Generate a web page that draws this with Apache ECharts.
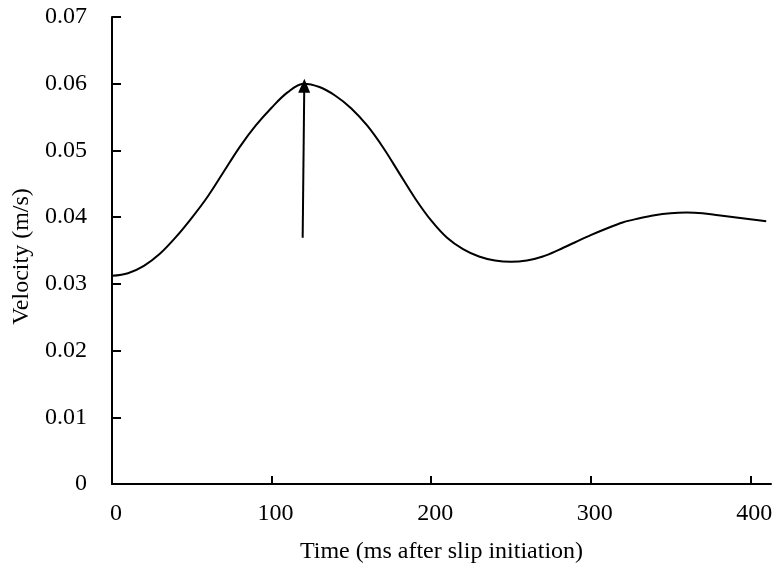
<!DOCTYPE html>
<html>
<head>
<meta charset="utf-8">
<script src="https://cdn.jsdelivr.net/npm/echarts@6/dist/echarts.min.js"></script>
<style>
html, body { margin: 0; padding: 0; background: #fff; }
#main { width: 777px; height: 571px; }
</style>
</head>
<body>
<div id="main"></div>
<script>
// time (ms after slip initiation)
var times = [0, 10, 20, 30, 40, 50, 60, 70, 80, 90, 100, 110, 120, 130, 140, 150, 160, 170, 180, 190, 200,
  210, 220, 230, 240, 250, 260, 270, 280, 290, 300, 310, 320, 330, 340, 350, 360, 370, 380, 390, 400, 410]
// velocity (m/s)
var velocity = [0.0312, 0.0316, 0.0327, 0.0345, 0.0370, 0.0399, 0.0431, 0.0468, 0.0505, 0.0537, 0.0564,
  0.0587, 0.0600, 0.0595, 0.0582, 0.0563, 0.0537, 0.0504, 0.0466, 0.0428, 0.0395,
  0.0369, 0.0352, 0.0341, 0.0335, 0.0333, 0.0335, 0.0341, 0.0351, 0.0362, 0.0373,
  0.0383, 0.0392, 0.0398, 0.0403, 0.0406, 0.0407, 0.0406, 0.0403, 0.0400, 0.0397, 0.0394]
var xTicks = [0, 100, 200, 300, 400]
// arrow pointing at the peak
var arrowFrom = [119.5, 0.0369]
var arrowTo = [120.5, 0.0597]

var points = []
for (var i = 0; i < times.length; i++) {
  points.push([times[i], velocity[i]])
}

var font = 'Liberation Serif'
var chart = echarts.init(document.getElementById('main'))
chart.setOption({
  animation: false,
  grid: { left: 112, right: 6, top: 17, bottom: 87 },
  xAxis: {
    type: 'value',
    min: 0,
    max: 413,
    interval: 100,
    name: 'Time (ms after slip initiation)',
    nameLocation: 'middle',
    nameGap: 56,
    nameTextStyle: { fontFamily: font, fontSize: 24, color: '#000' },
    axisLine: { lineStyle: { color: '#000', width: 2 } },
    axisTick: { show: true, inside: true, length: 8, customValues: xTicks, lineStyle: { color: '#000', width: 2 } },
    axisLabel: { customValues: xTicks, fontFamily: font, fontSize: 24, color: '#000', margin: 18, padding: [0, 0, 0, 8] },
    splitLine: { show: false }
  },
  yAxis: {
    type: 'value',
    min: 0,
    max: 0.07,
    interval: 0.01,
    name: 'Velocity (m/s)',
    nameLocation: 'middle',
    nameGap: 76,
    nameTextStyle: { fontFamily: font, fontSize: 24, color: '#000', padding: [0, 12, 0, 0] },
    axisLine: { show: true, lineStyle: { color: '#000', width: 2 } },
    axisTick: { show: true, inside: true, length: 9, lineStyle: { color: '#000', width: 2 } },
    axisLabel: {
      fontFamily: font, fontSize: 24, color: '#000', margin: 25,
      formatter: function (v) { return v === 0 ? '0' : v.toFixed(2) }
    },
    splitLine: { show: false }
  },
  series: [
    {
      type: 'line',
      data: points,
      smooth: 0.35,
      symbol: 'none',
      lineStyle: { color: '#000', width: 2 },
      markLine: {
        silent: true,
        symbol: ['none', 'triangle'],
        symbolSize: [12, 14],
        label: { show: false },
        lineStyle: { color: '#000', width: 2, type: 'solid' },
        data: [[{ coord: arrowFrom }, { coord: arrowTo }]]
      }
    }
  ]
})
</script>
</body>
</html>
